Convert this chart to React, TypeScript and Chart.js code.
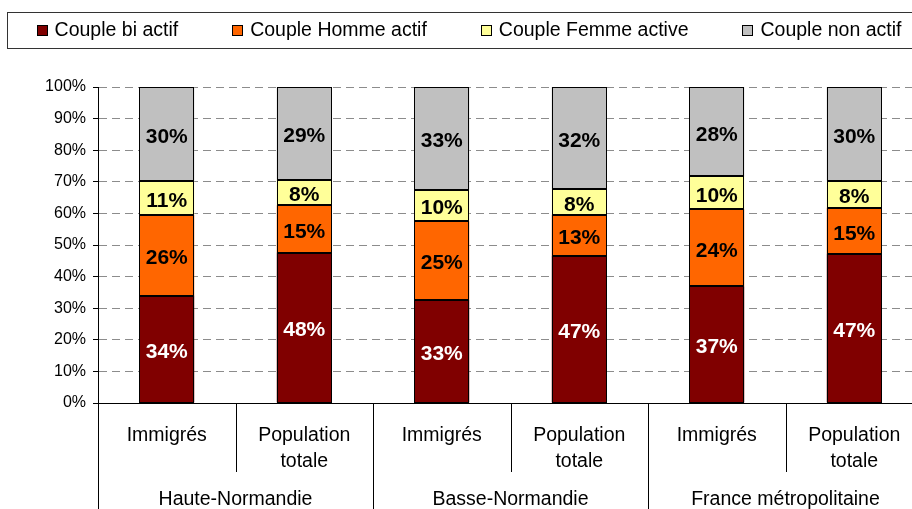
import React, { useEffect, useRef } from 'react';
import { Chart, registerables } from 'chart.js';

Chart.register(...registerables);

// ---- Data ----
const categories: (string | string[])[] = [
  'Immigrés', ['Population', 'totale'],
  'Immigrés', ['Population', 'totale'],
  'Immigrés', ['Population', 'totale'],
];
const groups = ['Haute-Normandie', 'Basse-Normandie', 'France métropolitaine'];
const seriesNames = ['Couple bi actif', 'Couple Homme actif', 'Couple Femme active', 'Couple non actif'];
const biActif = [34.0, 47.6, 32.6, 46.6, 36.9, 47.2];
const hommeActif = [25.6, 15.0, 24.9, 13.0, 24.4, 14.6];
const femmeActive = [10.5, 8.1, 9.9, 8.2, 10.4, 8.3];
const nonActif = [29.9, 29.3, 32.6, 32.2, 28.3, 29.9];
const seriesValues = [biActif, hommeActif, femmeActive, nonActif];
const seriesColors = ['#800000', '#FF6600', '#FFFF99', '#C0C0C0'];
const labelColors = ['#FFFFFF', '#000000', '#000000', '#000000'];
const yMax = 100;
const yStep = 10;

const FONT = '"Liberation Sans", Arial, sans-serif';
const W = 942;
const H = 509;

const decorPlugin = {
  id: 'decor',
  afterDatasetsDraw(chart: any) {
    const ctx = chart.ctx as CanvasRenderingContext2D;
    ctx.save();
    // crisp bar outlines
    ctx.strokeStyle = '#000';
    ctx.lineWidth = 1;
    chart.data.datasets.forEach((_ds: any, di: number) => {
      const meta = chart.getDatasetMeta(di);
      meta.data.forEach((el: any) => {
        const p = el.getProps(['x', 'y', 'base', 'width'], true);
        const l = Math.round(p.x - p.width / 2) + 0.5;
        const r = Math.round(p.x + p.width / 2) - 0.5;
        const t = Math.round(Math.min(p.y, p.base)) + 0.5;
        const b = Math.round(Math.max(p.y, p.base)) - 0.5;
        ctx.strokeRect(l, t, r - l, b - t);
      });
    });
    // data labels
    ctx.font = `bold 21px ${FONT}`;
    ctx.textAlign = 'center';
    ctx.textBaseline = 'middle';
    chart.data.datasets.forEach((ds: any, di: number) => {
      const meta = chart.getDatasetMeta(di);
      meta.data.forEach((el: any, i: number) => {
        const v = ds.data[i] as number;
        const p = el.getProps(['x', 'y', 'base'], true);
        ctx.fillStyle = labelColors[di];
        ctx.fillText(Math.round(v) + '%', p.x, (p.y + p.base) / 2 + 3);
      });
    });
    ctx.restore();
  },
  afterDraw(chart: any) {
    const ctx = chart.ctx as CanvasRenderingContext2D;
    const xs = chart.scales.x;
    const n = chart.data.labels.length;
    const step = xs.width / n;
    ctx.save();
    // category separators
    ctx.strokeStyle = '#000';
    ctx.lineWidth = 1;
    for (let i = 0; i <= n; i++) {
      const x = Math.round(xs.left + step * i) + 0.5;
      const long = i % 2 === 0;
      ctx.beginPath();
      ctx.moveTo(x, xs.top);
      ctx.lineTo(x, long ? chart.height : xs.top + 69);
      ctx.stroke();
    }
    // group labels
    ctx.font = `19.5px ${FONT}`;
    ctx.fillStyle = '#000';
    ctx.textAlign = 'center';
    ctx.textBaseline = 'alphabetic';
    groups.forEach((g, gi) => {
      const cx = xs.left + step * (2 * gi + 1);
      ctx.fillText(g, cx, xs.top + 102);
    });

    // legend with frame
    ctx.strokeStyle = '#333';
    ctx.strokeRect(7.5, 12.5, chart.width - 15, 36);
    ctx.font = `19.5px ${FONT}`;
    const box = 11;
    const gapText = 7;
    const spacing = 54;
    const widths = chart.data.datasets.map((d: any) => box + gapText + ctx.measureText(d.label).width);
    const total = widths.reduce((a: number, b: number) => a + b, 0) + spacing * (widths.length - 1);
    let x = chart.width / 2 - total / 2 - 2;
    const cy = 30.5;
    ctx.textAlign = 'left';
    ctx.textBaseline = 'middle';
    chart.data.datasets.forEach((d: any, i: number) => {
      ctx.fillStyle = d.backgroundColor;
      ctx.fillRect(Math.round(x), Math.round(cy - box / 2), box, box);
      ctx.strokeStyle = '#000';
      ctx.strokeRect(Math.round(x) + 0.5, Math.round(cy - box / 2) + 0.5, box - 1, box - 1);
      ctx.fillStyle = '#000';
      ctx.fillText(d.label, x + box + gapText, cy);
      x += widths[i] + spacing;
    });
    ctx.restore();
  },
};

export default function App() {
  const ref = useRef<HTMLCanvasElement | null>(null);
  useEffect(() => {
    if (!ref.current) return;
    const chart = new Chart(ref.current, {
      type: 'bar',
      data: {
        labels: categories as any,
        datasets: seriesNames.map((name, i) => ({
          label: name,
          data: seriesValues[i],
          backgroundColor: seriesColors[i],
          borderWidth: 0,
          barPercentage: 0.4,
          categoryPercentage: 1,
        })),
      },
      options: {
        responsive: false,
        animation: false,
        devicePixelRatio: 1,
        layout: { padding: { top: 87, right: 19, bottom: 0, left: 0 } },
        plugins: {
          legend: { display: false },
          tooltip: { enabled: false },
          title: { display: false },
        },
        scales: {
          x: {
            stacked: true,
            offset: true,
            grid: { display: false, drawTicks: false },
            border: { display: true, color: '#000', width: 1 },
            ticks: {
              color: '#000',
              padding: 20,
              maxRotation: 0,
              autoSkip: false,
              font: { family: FONT, size: 19.5, lineHeight: 1.333 },
            },
            afterFit: (s: any) => { s.height = 106; },
          },
          y: {
            stacked: true,
            min: 0,
            max: yMax,
            grid: {
              color: '#8c8c8c',
              lineWidth: 1,
              drawTicks: true,
              tickLength: 5,
              tickColor: '#000',
              tickBorderDash: [],
            } as any,
            border: { display: true, color: '#000', width: 1, dash: [8, 5] },
            ticks: {
              stepSize: yStep,
              color: '#000',
              padding: 7,
              font: { family: FONT, size: 16 },
              callback: (v: any) => v + '%',
            },
            afterFit: (s: any) => { s.width = 98; },
          },
        },
      },
      plugins: [decorPlugin],
    });
    return () => chart.destroy();
  }, []);
  return (
    <div style={{ position: 'absolute', left: 0, top: 0, width: 912, height: 509, overflow: 'hidden', background: '#fff' }}>
      <canvas ref={ref} width={W} height={H} style={{ width: W, height: H, display: 'block' }} />
    </div>
  );
}
